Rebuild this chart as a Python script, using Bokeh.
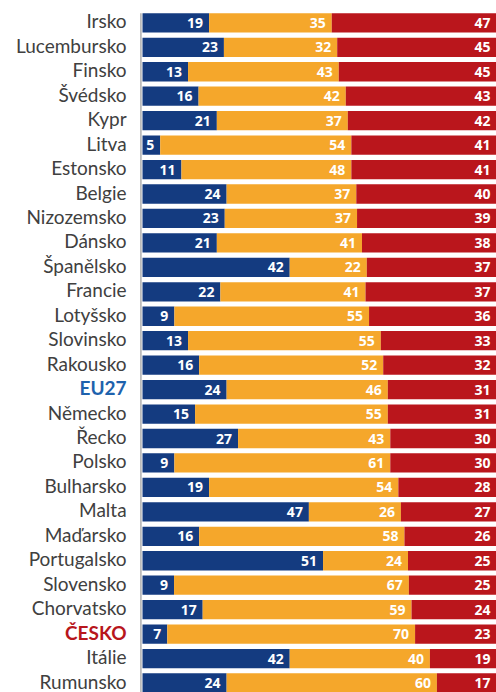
from bokeh.plotting import figure
from bokeh.models import ColumnDataSource, Range1d
from bokeh.core.properties import value
from bokeh.embed import file_html
from bokeh.resources import INLINE

countries = ["Irsko", "Lucembursko", "Finsko", "Švédsko", "Kypr", "Litva", "Estonsko",
             "Belgie", "Nizozemsko", "Dánsko", "Španělsko", "Francie", "Lotyšsko",
             "Slovinsko", "Rakousko", "EU27", "Německo", "Řecko", "Polsko", "Bulharsko",
             "Malta", "Maďarsko", "Portugalsko", "Slovensko", "Chorvatsko", "ČESKO",
             "Itálie", "Rumunsko"]
blue_vals = [19, 23, 13, 16, 21, 5, 11, 24, 23, 21, 42, 22, 9, 13, 16, 24, 15, 27, 9, 19,
             47, 16, 51, 9, 17, 7, 42, 24]
orange_vals = [35, 32, 43, 42, 37, 54, 48, 37, 37, 41, 22, 41, 55, 55, 52, 46, 55, 43, 61,
               54, 26, 58, 24, 67, 59, 70, 40, 60]
red_vals = [47, 45, 45, 43, 42, 41, 41, 40, 39, 38, 37, 37, 36, 33, 32, 31, 31, 30, 30, 28,
            27, 26, 25, 25, 24, 23, 19, 17]

BLUE = "#143B80"
ORANGE = "#F5A72B"
RED = "#BA161C"

n = len(countries)
ys = [-i for i in range(n)]
b, o, r = [], [], []
for bv, ov, rv in zip(blue_vals, orange_vals, red_vals):
    s = bv + ov + rv
    b.append(bv * 100.0 / s)
    o.append(ov * 100.0 / s)
    r.append(rv * 100.0 / s)
b_end = b
o_end = [x + y for x, y in zip(b, o)]
r_end = [100.0] * n

label_colors = []
label_styles = []
for c in countries:
    if c == "EU27":
        label_colors.append("#1E62AD"); label_styles.append("bold")
    elif c == "ČESKO":
        label_colors.append("#B8161C"); label_styles.append("bold")
    else:
        label_colors.append("#404040"); label_styles.append("normal")

src = ColumnDataSource(dict(
    y=ys, country=countries, b0=[0.0] * n, b1=b_end, o1=o_end, r1=r_end,
    bl=[str(v) for v in blue_vals], ol=[str(v) for v in orange_vals],
    rl=[str(v) for v in red_vals], lc=label_colors, ls=label_styles,
    lx=[-4.5] * n,
))

W, H = 496, 692
pitch = 24.45
top = 22.35 / pitch
p = figure(width=W, height=H, output_backend="svg", toolbar_location=None,
           x_range=Range1d(-142 / 3.54, 100), y_range=Range1d(top - H / pitch, top),
           min_border=0, min_border_left=0, min_border_right=0, min_border_top=0,
           min_border_bottom=0)
p.axis.visible = False
p.grid.visible = False
p.outline_line_color = None
p.background_fill_color = "white"
p.border_fill_color = "white"

bh = 0.79
p.hbar(y="y", left="b0", right="b1", height=bh, color=BLUE, line_color=None, source=src)
p.hbar(y="y", left="b1", right="o1", height=bh, color=ORANGE, line_color=None, source=src)
p.hbar(y="y", left="o1", right="r1", height=bh, color=RED, line_color=None, source=src)

p.segment(x0=[-0.45], x1=[-0.45], y0=[bh / 2], y1=[-(n - 1) - 1], line_color="#b0b0b0",
          line_width=1.5)

common = dict(text_color="white", text_font=value("Open Sans"), text_font_style="bold",
              text_font_size="14px", text_align="right", text_baseline="middle",
              x_offset=-6, source=src)
p.text(x="b1", y="y", text="bl", **common)
p.text(x="o1", y="y", text="ol", **common)
p.text(x="r1", y="y", text="rl", **common)

p.text(x="lx", y="y", text="country", text_color="lc", text_font=value("Lato"),
       text_font_style="ls", text_font_size="19px", text_align="right",
       text_baseline="middle", y_offset=-2, source=src)

open("out.html", "w").write(file_html(p, INLINE))
